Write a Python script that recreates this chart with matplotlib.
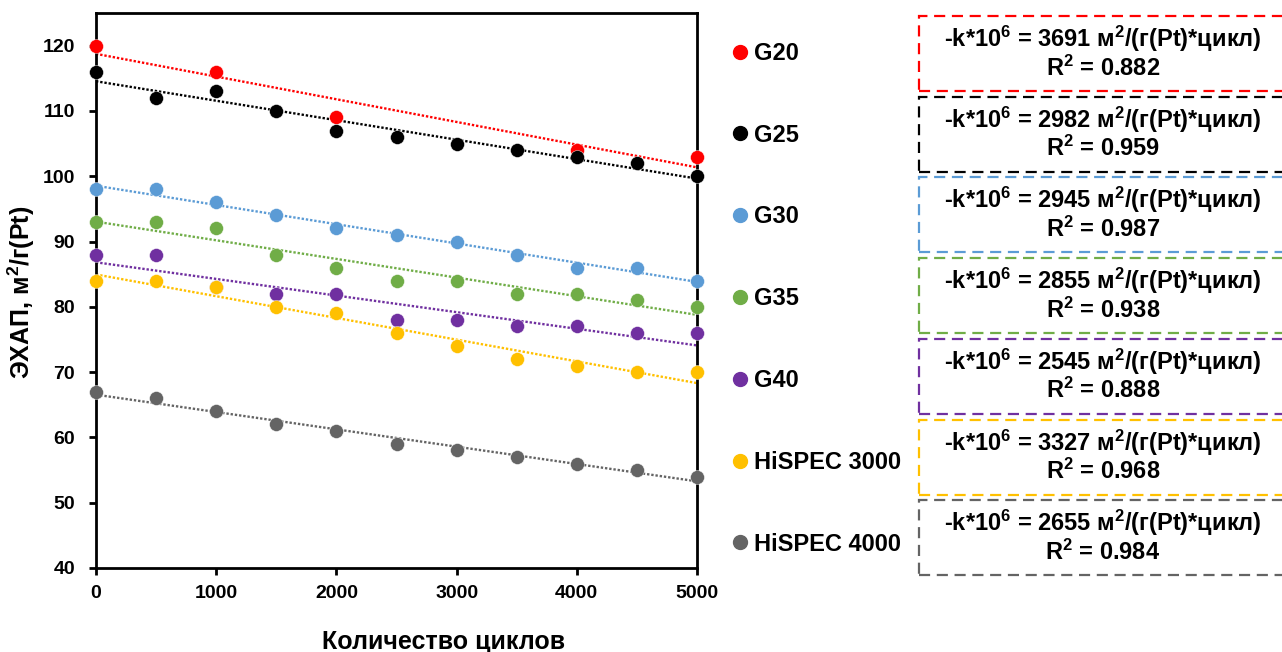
import numpy as np
import matplotlib
matplotlib.use("Agg")
import matplotlib.pyplot as plt
from matplotlib.patches import Rectangle
from matplotlib.lines import Line2D

plt.rcParams['font.family'] = ['Liberation Sans', 'DejaVu Sans']
plt.rcParams['font.weight'] = 'bold'
plt.rcParams['mathtext.fontset'] = 'custom'
plt.rcParams['mathtext.rm'] = 'Liberation Sans:bold'
plt.rcParams['mathtext.it'] = 'Liberation Sans:bold'
plt.rcParams['mathtext.bf'] = 'Liberation Sans:bold'

# data
cycles = [0, 500, 1000, 1500, 2000, 2500, 3000, 3500, 4000, 4500, 5000]
g20_x = [0, 1000, 2000, 4000, 5000]
g20 = [120, 116, 109, 104, 103]
g25 = [116, 112, 113, 110, 107, 106, 105, 104, 103, 102, 100]
g30 = [98, 98, 96, 94, 92, 91, 90, 88, 86, 86, 84]
g35 = [93, 93, 92, 88, 86, 84, 84, 82, 82, 81, 80]
g40 = [88, 88, 83, 82, 82, 78, 78, 77, 77, 76, 76]
hispec3000 = [84, 84, 83, 80, 79, 76, 74, 72, 71, 70, 70]
hispec4000 = [67, 66, 64, 62, 61, 59, 58, 57, 56, 55, 54]

names = ['G20', 'G25', 'G30', 'G35', 'G40', 'HiSPEC 3000', 'HiSPEC 4000']
k_vals = ['3691', '2982', '2945', '2855', '2545', '3327', '2655']
r2_vals = ['0.882', '0.959', '0.987', '0.938', '0.888', '0.968', '0.984']
colors = ['#FF0000', '#000000', '#5B9BD5', '#70AD47', '#7030A0', '#FFC000', '#646464']

series = [(g20_x, g20), (cycles, g25), (cycles, g30), (cycles, g35),
          (cycles, g40), (cycles, hispec3000), (cycles, hispec4000)]

fig = plt.figure(figsize=(12.82, 6.52), dpi=100)
ax = fig.add_axes([96/1282, 1-568/652, (697-96)/1282, (568-13)/652])

handles = []
for (x, y), c, n in zip(series, colors, names):
    x = np.array(x, float)
    y = np.array(y, float)
    p = np.polyfit(x, y, 1)   # linear trend line
    xx = np.array([0, 5000])
    ax.plot(xx, np.polyval(p, xx), ls=(0, (1, 0.8)), lw=1.7, color=c, zorder=2)
    ax.plot(x, y, 'o', ms=10, color=c, mec='white', mew=0.3, zorder=3, clip_on=False)
    handles.append(Line2D([], [], marker='o', ls='none', ms=10, color=c, label=n))

ax.set_xlim(0, 5000)
ax.set_ylim(40, 125)
ax.set_xticks(range(0, 5001, 1000))
ax.set_yticks(range(40, 121, 10))
for s in ax.spines.values():
    s.set_linewidth(2)
ax.tick_params(direction='out', length=5, width=2, labelsize=14)
ax.tick_params(axis='y', pad=10)
ax.tick_params(axis='x', pad=7)
ax.set_xlabel('Количество циклов', fontsize=18, fontweight='bold')
ax.xaxis.set_label_coords((444-96)/601, -(630-568)/555, transform=ax.transAxes)
ax.set_ylabel('ЭХАП, м$^{2}$/г(Pt)', fontsize=18, fontweight='bold')
ax.yaxis.set_label_coords(-(96-37)/601, (568-292)/555, transform=ax.transAxes)

fig.legend(handles=handles, loc='upper left', bbox_to_anchor=(719/1282, 1-30/652),
           frameon=False, fontsize=17, labelspacing=2.49, handlelength=0.8,
           handletextpad=0.2, borderpad=0)

for i, (c, k, r) in enumerate(zip(colors, k_vals, r2_vals)):
    top = 16 + i * 80.7
    rect = Rectangle((919/1282, 1-(top+75)/652), 380/1282, 75/652,
                     transform=fig.transFigure, fill=False, ec=c, lw=1.6,
                     ls=(0, (5, 3)), clip_on=False)
    fig.patches.append(rect)
    fig.text(1103/1282, 1-(top+23)/652, f'-k*10$^{{6}}$ = {k} м$^{{2}}$/(г(Pt)*цикл)',
             ha='center', va='center', fontsize=17, fontweight='bold')
    fig.text(1103/1282, 1-(top+52)/652, f'R$^{{2}}$ = {r}',
             ha='center', va='center', fontsize=17, fontweight='bold')

fig.savefig('out.png', dpi=100)
